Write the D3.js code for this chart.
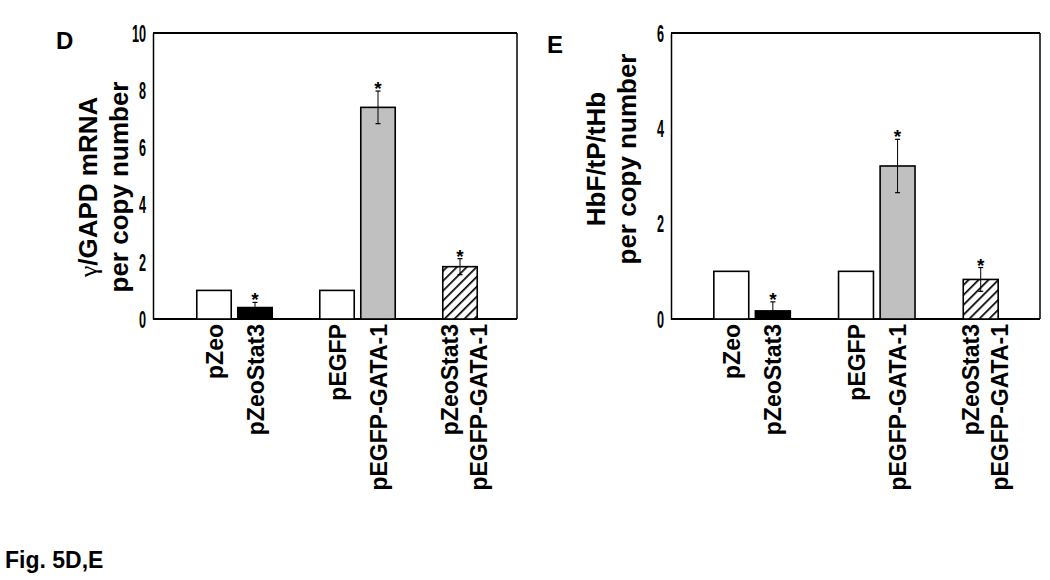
<!DOCTYPE html>
<html><head><meta charset="utf-8">
<script src="https://cdn.jsdelivr.net/npm/d3@7"></script>
<style>body{margin:0;background:#fff;} svg{display:block;font-family:"Liberation Sans",Arial,sans-serif;}</style>
</head><body>
<svg id="c" width="1050" height="580"></svg>
<script>
// ---- data ----
const slots = ["pZeo","pZeoStat3","gap1","pEGFP","pEGFP-GATA-1","gap2","pZeoStat3 / pEGFP-GATA-1"];
const categories = ["pZeo","pZeoStat3","pEGFP","pEGFP-GATA-1","pZeoStat3 / pEGFP-GATA-1"];
const labelLines = [["pZeo"],["pZeoStat3"],["pEGFP"],["pEGFP-GATA-1"],["pZeoStat3","pEGFP-GATA-1"]];
const fills = ["white","black","white","#c0c0c0","hatch"];
const valuesD = [1.0, 0.40, 1.0, 7.40, 1.83];
const errorsD = [0, 0.18, 0, 0.57, 0.28];
const starD = [false, true, false, true, true];
const ticksD = [0,2,4,6,8,10];
const valuesE = [1.0, 0.17, 1.0, 3.21, 0.83];
const errorsE = [0, 0.19, 0, 0.56, 0.25];
const starE = [false, true, false, true, true];
const ticksE = [0,2,4,6];

const svg = d3.select("#c");
const defs = svg.append("defs");
const pat = defs.append("pattern").attr("id","hatch").attr("patternUnits","userSpaceOnUse")
  .attr("width",7).attr("height",7).attr("patternTransform","rotate(45)");
pat.append("rect").attr("width",7).attr("height",7).attr("fill","white");
pat.append("line").attr("x1",0).attr("y1",0).attr("x2",0).attr("y2",7).attr("stroke","black").attr("stroke-width",3.4);

function panel(cfg){
  const {left,right,top,bottom,ymax,ticks,values,errors,stars,bandRange,letter,letterPos,titleLines,titleX,titleY} = cfg;
  const g = svg.append("g");
  const y = d3.scaleLinear().domain([0,ymax]).range([bottom,top]);
  const x = d3.scaleBand().domain(slots).range(bandRange).paddingInner(0.16).paddingOuter(0.08);
  // frame
  g.append("line").attr("x1",left).attr("x2",right).attr("y1",top).attr("y2",top).attr("stroke","black").attr("stroke-width",2.2);
  g.append("line").attr("x1",left).attr("x2",right).attr("y1",bottom).attr("y2",bottom).attr("stroke","black").attr("stroke-width",2.2);
  g.append("line").attr("x1",right).attr("x2",right).attr("y1",top).attr("y2",bottom).attr("stroke","black").attr("stroke-width",1.5);
  // y axis
  const ax = g.append("g").attr("transform",`translate(${left},0)`)
    .call(d3.axisLeft(y).tickValues(ticks).tickSize(0).tickPadding(0).tickFormat(d3.format("d")));
  ax.select(".domain").attr("stroke","black").attr("stroke-width",1.5);
  ax.selectAll(".tick text").attr("font-size",23).attr("font-weight","bold").attr("fill","black")
    .attr("font-family","'Liberation Sans',Arial,sans-serif")
    .attr("x",null).attr("dy","0.36em")
    .attr("transform","translate(-7,0) scale(0.55,1)");
  // bars
  const data = categories.map((c,i)=>({c,v:values[i],e:errors[i],s:stars[i],f:fills[i],lab:labelLines[i]}));
  g.selectAll("rect.bar").data(data).enter().append("rect").attr("class","bar")
    .attr("x",d=>x(d.c)).attr("width",x.bandwidth())
    .attr("y",d=>y(d.v)).attr("height",d=>y(0)-y(d.v))
    .attr("fill",d=>d.f==="hatch"?"url(#hatch)":d.f)
    .attr("stroke","black").attr("stroke-width",1.6);
  // error bars
  const eb = data.filter(d=>d.e>0);
  const cx = d=>x(d.c)+x.bandwidth()/2;
  g.selectAll("line.err").data(eb).enter().append("line")
    .attr("x1",cx).attr("x2",cx).attr("y1",d=>y(d.v+d.e)).attr("y2",d=>y(Math.max(0,d.v-d.e)))
    .attr("stroke","black").attr("stroke-width",1);
  g.selectAll("line.capT").data(eb).enter().append("line")
    .attr("x1",d=>cx(d)-2.5).attr("x2",d=>cx(d)+2.5).attr("y1",d=>y(d.v+d.e)).attr("y2",d=>y(d.v+d.e))
    .attr("stroke","black").attr("stroke-width",1.2);
  g.selectAll("line.capB").data(eb.filter(d=>d.f!=="black")).enter().append("line")
    .attr("x1",d=>cx(d)-2.5).attr("x2",d=>cx(d)+2.5).attr("y1",d=>y(d.v-d.e)).attr("y2",d=>y(d.v-d.e))
    .attr("stroke","black").attr("stroke-width",1.2);
  // asterisks
  g.selectAll("text.star").data(data.filter(d=>d.s)).enter().append("text")
    .attr("x",cx).attr("y",d=>y(d.v+d.e)+4).attr("text-anchor","middle")
    .attr("font-size",19).attr("font-weight","bold").text("*");
  // x labels
  data.forEach(d=>{
    const n = d.lab.length;
    d.lab.forEach((t,k)=>{
      const off = n===1 ? 8.5 : (k===0 ? -2 : 27);
      g.append("text").attr("transform",`translate(${cx(d)+off},324) rotate(-90)`)
        .attr("text-anchor","end").attr("font-size",23).attr("font-weight","bold").text(t);
    });
  });
  // panel letter
  g.append("text").attr("x",letterPos[0]).attr("y",letterPos[1]).attr("font-size",24).attr("font-weight","bold").text(letter);
  // y title
  titleLines.forEach((t,k)=>{
    const tx = g.append("text").attr("transform",`translate(${titleX[k]},${titleY}) rotate(-90)`)
      .attr("text-anchor","middle").attr("font-size",26).attr("font-weight","bold");
    if (t.startsWith("\u03b3")) {
      tx.append("tspan").attr("font-family","'Liberation Serif','DejaVu Serif',serif").attr("font-weight","normal").text("\u03b3");
      tx.append("tspan").text(t.slice(1));
    } else tx.text(t);
  });
}

panel({left:153,right:517,top:33,bottom:319,ymax:10,ticks:ticksD,values:valuesD,errors:errorsD,stars:starD,
  bandRange:[193.5,480.5],letter:"D",letterPos:[56,49],titleLines:["\u03b3/GAPD mRNA","per copy number"],titleX:[97,128],titleY:187});
panel({left:671,right:1040,top:33,bottom:319,ymax:6,ticks:ticksE,values:valuesE,errors:errorsE,stars:starE,
  bandRange:[710.5,1001.5],letter:"E",letterPos:[547,53],titleLines:["HbF/tP/tHb","per copy number"],titleX:[605,636],titleY:159});

svg.append("text").attr("x",5).attr("y",568).attr("font-size",23).attr("font-weight","bold").text("Fig. 5D,E");
</script>
</body></html>
